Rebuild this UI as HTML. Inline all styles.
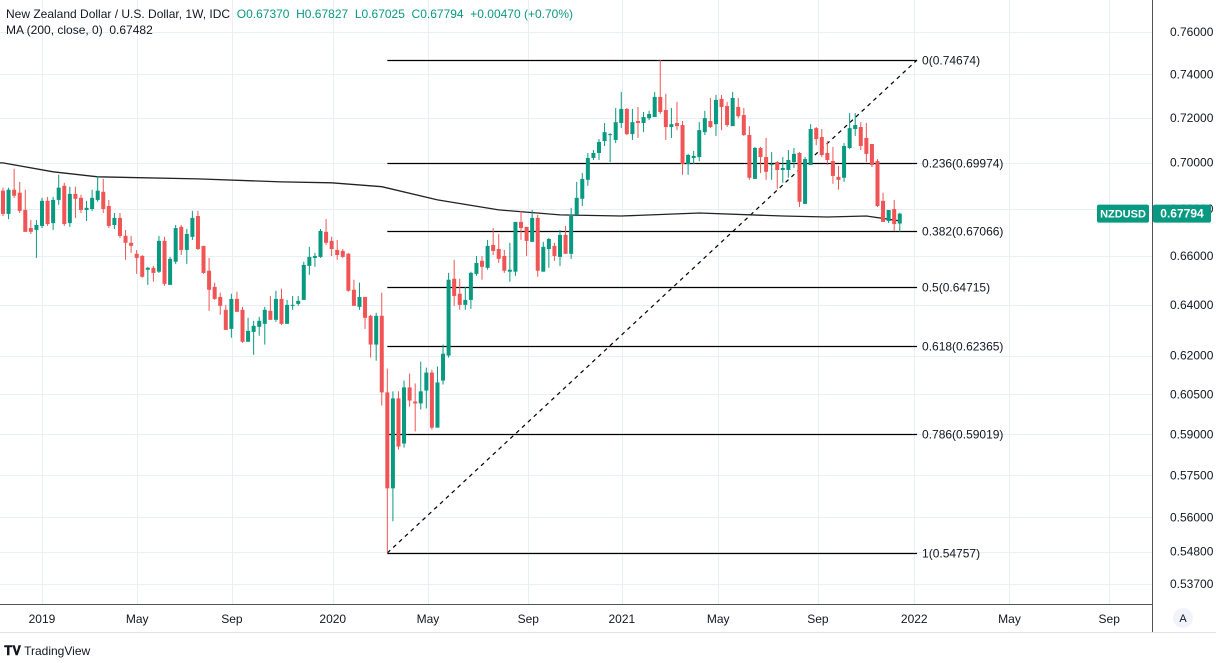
<!DOCTYPE html>
<html><head><meta charset="utf-8">
<style>
html,body{margin:0;padding:0;background:#fff;}
body{width:1216px;height:663px;overflow:hidden;position:relative;font-family:"Liberation Sans",sans-serif;}
#hdr{position:absolute;left:6px;top:6px;font-size:12px;color:#131722;line-height:16px;}
#hdr .g{color:#089981;}
#logo{position:absolute;left:4px;top:643px;font-size:12px;color:#131722;}
</style></head>
<body>
<svg id="chart" width="1216" height="663" style="position:absolute;left:0;top:0" xmlns="http://www.w3.org/2000/svg"></svg>
<div id="hdr">
<div>New Zealand Dollar / U.S. Dollar, 1W, IDC&nbsp; <span class="g">O0.67370&nbsp; H0.67827&nbsp; L0.67025&nbsp; C0.67794&nbsp; +0.00470 (+0.70%)</span></div>
<div>MA (200, close, 0)&nbsp; 0.67482</div>
</div>
<div id="logo"><b style="font-size:13px">𝐓𝐕</b> TradingView</div>
<script>
const opens=[.6878,.6778,.6882,.6869,.6795,.6718,.6710,.6727,.6834,.6739,.6838,.6899,.6739,.6864,.6847,.6795,.6799,.6838,.6873,.6812,.6731,.6761,.6685,.6656,.6610,.6601,.6544,.6552,.6536,.6664,.6482,.6577,.6723,.6626,.6681,.6769,.6643,.6540,.6474,.6433,.6381,.6305,.6425,.6381,.6254,.6293,.6313,.6325,.6377,.6341,.6425,.6325,.6397,.6405,.6421,.6560,.6593,.6597,.6702,.6664,.6626,.6622,.6610,.6462,.6393,.6433,.6357,.6243,.6357,.6058,.5703,.6035,.5866,.6077,.6023,.6016,.6065,.6134,.5925,.6103,.6200,.6507,.6446,.6401,.6421,.6527,.6581,.6552,.6647,.6630,.6601,.6536,.6536,.6744,.6723,.6660,.6761,.6536,.6630,.6643,.6597,.6689,.6610,.6774,.6843,.6925,.7021,.7043,.7096,.7123,.7101,.7177,.7241,.7127,.7186,.7177,.7199,.7204,.7296,.7236,.7159,.7177,.7168,.6994,.7021,.7025,.7136,.7186,.7172,.7287,.7254,.7163,.7250,.7213,.7123,.6929,.7065,.7025,.6990,.7003,.6968,.6968,.7003,.7043,.6821,.6990,.7154,.7114,.7043,.7007,.6938,.6934,.7065,.7150,.7159,.7110,.7083,.7007,.6834,.6748,.6799,.6737];
const highs=[.6891,.6891,.6973,.6916,.6882,.6752,.6752,.6847,.6851,.6851,.6947,.6912,.6895,.6895,.6860,.6834,.6882,.6942,.6929,.6838,.6782,.6782,.6710,.6685,.6626,.6605,.6556,.6560,.6685,.6681,.6597,.6731,.6731,.6714,.6791,.6791,.6643,.6593,.6491,.6450,.6401,.6446,.6454,.6393,.6349,.6337,.6353,.6393,.6437,.6458,.6466,.6421,.6437,.6437,.6577,.6639,.6614,.6714,.6756,.6681,.6668,.6630,.6614,.6503,.6491,.6433,.6361,.6369,.6450,.6149,.6062,.6062,.6103,.6130,.6092,.6176,.6153,.6145,.6157,.6243,.6531,.6585,.6507,.6474,.6536,.6601,.6601,.6668,.6718,.6693,.6626,.6656,.6744,.6791,.6723,.6795,.6774,.6660,.6676,.6656,.6710,.6727,.6804,.6916,.6955,.7043,.7056,.7105,.7177,.7132,.7245,.7319,.7245,.7241,.7250,.7227,.7232,.7319,.7467,.7310,.7245,.7273,.7186,.7039,.7052,.7181,.7232,.7291,.7305,.7305,.7273,.7319,.7291,.7245,.7163,.7070,.7070,.7110,.7047,.7007,.7025,.7056,.7065,.7047,.7025,.7172,.7159,.7150,.7096,.7070,.6986,.7087,.7222,.7222,.7181,.7177,.7083,.7016,.6869,.6795,.6838,.6783];
const lows=[.6769,.6756,.6847,.6782,.6702,.6693,.6593,.6718,.6727,.6710,.6817,.6727,.6723,.6761,.6782,.6748,.6791,.6830,.6782,.6718,.6714,.6676,.6585,.6614,.6527,.6511,.6482,.6495,.6531,.6478,.6482,.6568,.6605,.6568,.6668,.6626,.6527,.6377,.6421,.6361,.6301,.6270,.6373,.6250,.6254,.6203,.6278,.6243,.6341,.6333,.6321,.6325,.6381,.6397,.6421,.6523,.6556,.6593,.6647,.6601,.6585,.6593,.6454,.6397,.6381,.6305,.6192,.6180,.6008,.5476,.5586,.5844,.5851,.6004,.5911,.5993,.5997,.5918,.5925,.6088,.6192,.6397,.6381,.6381,.6385,.6519,.6503,.6544,.6605,.6572,.6531,.6495,.6519,.6668,.6601,.6660,.6515,.6536,.6552,.6581,.6560,.6610,.6589,.6774,.6812,.6899,.7012,.7012,.7074,.7003,.7087,.7154,.7123,.7101,.7110,.7136,.7190,.7204,.7218,.7101,.7110,.7145,.6947,.6947,.6994,.7007,.7123,.7154,.7119,.7145,.7159,.7163,.7199,.7119,.6925,.6929,.6955,.6925,.6925,.6886,.6912,.6934,.6977,.6808,.6821,.6990,.7078,.7025,.6990,.6908,.6882,.6916,.7061,.7119,.7056,.7003,.6981,.6808,.6744,.6739,.6706,.67025];
const closes=[.6778,.6882,.6856,.6791,.6702,.6702,.6731,.6834,.6735,.6838,.6891,.6735,.6864,.6843,.6795,.6804,.6847,.6878,.6799,.6727,.6761,.6685,.6656,.6643,.6593,.6515,.6552,.6531,.6664,.6486,.6589,.6718,.6626,.6693,.6761,.6630,.6531,.6462,.6425,.6397,.6301,.6425,.6373,.6254,.6297,.6317,.6337,.6381,.6341,.6425,.6325,.6401,.6401,.6417,.6564,.6597,.6601,.6706,.6656,.6630,.6605,.6597,.6458,.6397,.6433,.6349,.6243,.6357,.6058,.5703,.6035,.5855,.6077,.6027,.6016,.6062,.6134,.5925,.6096,.6207,.6503,.6437,.6401,.6421,.6531,.6572,.6556,.6643,.6622,.6589,.6540,.6544,.6744,.6718,.6664,.6761,.6540,.6639,.6672,.6601,.6689,.6610,.6774,.6847,.6929,.7021,.7043,.7092,.7136,.7127,.7181,.7241,.7127,.7181,.7177,.7204,.7218,.7296,.7227,.7159,.7172,.7163,.6994,.7034,.7030,.7145,.7199,.7159,.7282,.7250,.7168,.7291,.7208,.7123,.6934,.7065,.7025,.6960,.6994,.6968,.6977,.7012,.7039,.6830,.7016,.7150,.7105,.7034,.7012,.6942,.6925,.7074,.7154,.7168,.7074,.7039,.6990,.6812,.6744,.6795,.6735,.67794];
const maIdx=[0,9,17,35,50,59,68,78,89,100,111,125,140,148,155,161];
const maVals=[.6999,.6960,.6938,.6929,.6916,.6912,.6895,.6838,.6795,.6774,.6769,.6782,.6769,.6765,.6769,.67482];
const yTicks=[0.76,0.74,0.72,0.70,0.68,0.66,0.64,0.62,0.605,0.59,0.575,0.56,0.548,0.537];
const xTickLabels=["2019","May","Sep","2020","May","Sep","2021","May","Sep","2022","May","Sep"];
const xTickIdx=[7,24.1,41.1,59.2,76.3,94.3,111.1,128.4,146.3,163.6,180.7,198.6];
const fibLevels=[0,0.236,0.382,0.5,0.618,0.786,1];
const fibHigh=0.74674, fibLow=0.54757;
const fibStartIdx=69, fibEndIdx=164.1;

const NS="http://www.w3.org/2000/svg";
const svg=document.getElementById('chart');
const PLOT_R=1152, PLOT_B=604;
const yRef=fibHigh, yRefPx=60, k=1589;
function Y(p){return yRefPx+Math.log(yRef/p)*k;}
function X(i){return 3+i*5.57;}
function el(t,a,parent){const e=document.createElementNS(NS,t);for(const n in a)e.setAttribute(n,a[n]);(parent||svg).appendChild(e);return e;}
const GREEN="#089981", RED="#f05454";

// grid
const grid=el('g',{});


yTicks.forEach(v=>{const y=Math.round(Y(v))+.5;el('line',{x1:0,x2:PLOT_R,y1:y,y2:y,stroke:"#e9eff3","stroke-width":1},grid);});
xTickIdx.forEach(i=>{const x=Math.round(X(i))+.5;el('line',{x1:x,x2:x,y1:0,y2:PLOT_B,stroke:"#e9eff3","stroke-width":1},grid);});

// fib
const fib=el('g',{});


const fx1=X(fibStartIdx), fx2=X(fibEndIdx);
fibLevels.forEach(l=>{
  const p=fibHigh-(fibHigh-fibLow)*l; const y=Math.round(Y(p))+.5;
  const ln=el('line',{x1:fx1,x2:fx2,y1:y,y2:y,stroke:"#000","stroke-width":1.2},fib);
  
  
  const t=el('text',{x:fx2+5,y:y+4,"font-size":12,fill:"#131722"},fib);
  
  
  t.textContent=l+"("+p.toFixed(5)+")";
});
const tl=el('line',{x1:fx1,y1:Y(fibLow),x2:fx2,y2:Y(fibHigh),stroke:"#000","stroke-width":1.2,"stroke-dasharray":"4,4"},fib);



// MA
let d="";maIdx.forEach((i,n)=>{d+=(n?"L":"M")+X(i).toFixed(1)+","+Y(maVals[n]).toFixed(1);});
const ma=el('path',{d:"M0,"+Y(maVals[0]).toFixed(1)+d.replace(/^M/,"L"),fill:"none",stroke:"#222","stroke-width":1.3});



// candles
const cg=el('g',{});


closes.forEach((c,i)=>{
  const o=opens[i],h=highs[i],l=lows[i];const col=c>=o?GREEN:RED;const x=X(i);
  const g=el('g',{},cg);
  
  
  el('line',{x1:x,x2:x,y1:Y(h),y2:Y(l),stroke:col,"stroke-width":1},g);
  const yt=Y(Math.max(o,c)),yb=Y(Math.min(o,c));
  el('rect',{x:x-2,y:yt,width:4,height:Math.max(1,yb-yt),fill:col},g);
});

// axes frame
el('line',{x1:PLOT_R+.5,x2:PLOT_R+.5,y1:0,y2:632,stroke:"#50535e","stroke-width":1});
el('line',{x1:0,x2:PLOT_R,y1:PLOT_B+.5,y2:PLOT_B+.5,stroke:"#50535e","stroke-width":1});
el('line',{x1:0,x2:1216,y1:632.5,y2:632.5,stroke:"#e0e3eb","stroke-width":1});

const ya=el('g',{});


yTicks.forEach(v=>{const t=el('text',{x:1170,y:Y(v)+4,"font-size":12,fill:"#131722"},ya);
  
  
  t.textContent=v.toFixed(5);});
const xa=el('g',{});


xTickLabels.forEach((s,n)=>{const t=el('text',{x:X(xTickIdx[n]),y:623,"font-size":12,fill:"#131722","text-anchor":"middle"},xa);
  
  
  t.textContent=s;});
const ab=el('circle',{cx:1183,cy:618,r:10,fill:"#f0f3fa"});


const at=el('text',{x:1183,y:622,"font-size":11,fill:"#131722","text-anchor":"middle"});


at.textContent="A";

// price tag
const last=closes[closes.length-1];const py=Y(last);
const tg=el('g',{});


el('rect',{x:1097,y:py-9,width:52,height:18,rx:2,fill:GREEN},tg);
const t1=el('text',{x:1123,y:py+4,"font-size":11,"font-weight":"bold",fill:"#fff","text-anchor":"middle"},tg);
t1.textContent="NZDUSD";
el('rect',{x:1153,y:py-9,width:58,height:18,rx:2,fill:GREEN},tg);
const t2=el('text',{x:1182,y:py+4,"font-size":12,"font-weight":"bold",fill:"#fff","text-anchor":"middle"},tg);
t2.textContent=last.toFixed(5);
</script>
</body></html>
